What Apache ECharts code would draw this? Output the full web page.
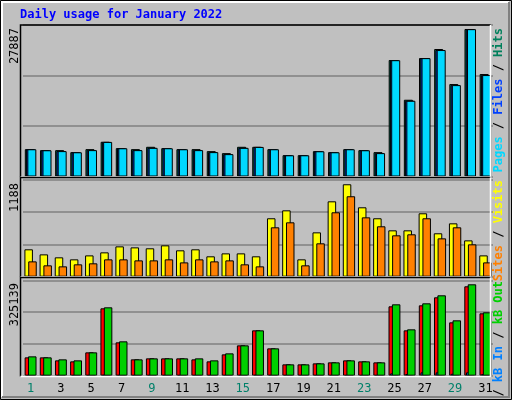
<!DOCTYPE html>
<html><head><meta charset="utf-8">
<script src="https://cdn.jsdelivr.net/npm/echarts@6/dist/echarts.min.js"></script>
<style>html,body{margin:0;padding:0;background:#c0c0c0}#c{width:512px;height:400px}</style>
</head><body><div id="c"></div>
<script>
const days = ['1','2','3','4','5','6','7','8','9','10','11','12','13','14','15','16','17','18','19','20','21','22','23','24','25','26','27','28','29','30','31'];
const weekend = [1,2,8,9,15,16,22,23,29,30];
const hits  = [5175,4985,4985,4606,5175,6562,5364,5175,5616,5364,5175,5175,4796,4417,5616,5616,5175,4038,4038,4796,4606,5175,4985,4606,22022,14513,22400,24104,17478,27887,19372];
const files = [5150,4960,4800,4580,4985,6540,5340,4985,5420,5340,5150,4985,4610,4230,5420,5590,5150,4010,4010,4770,4580,5150,4960,4420,21990,14320,22380,23910,17280,27860,19180];
const pages = [5150,4960,4800,4580,4985,6540,5340,4985,5420,5340,5150,4985,4610,4230,5420,5590,5150,4010,4010,4770,4580,5150,4960,4420,21990,14320,22380,23910,17280,27860,19180];
const visits = [352,287,249,223,274,313,390,377,365,403,339,352,262,300,300,262,751,853,223,570,969,1188,892,751,596,596,815,558,686,467,274];
const sites  = [197,146,133,159,172,223,223,210,210,223,184,223,197,210,159,133,635,699,146,429,828,1034,763,648,532,545,751,493,635,416,184];
const kbOut = [68823,65263,58143,54584,83062,243253,122220,58143,61703,61703,61703,61703,54584,79502,107981,161378,97301,40344,40344,43904,47464,54584,51024,47464,253932,164937,257492,285970,196975,325139,225453];
const kbF   = [65263,65263,54584,51024,83062,239693,118660,58143,61703,61703,61703,58143,51024,75942,107981,161378,97301,40344,40344,43904,47464,54584,51024,47464,246812,161378,250372,278850,189855,318019,221893];
const kbIn  = [1500,1500,1400,1300,1600,2500,1800,1400,1400,1400,1400,1400,1300,1500,1700,2000,1600,1200,1200,1200,1300,1400,1300,1300,8300,6000,11800,11800,7000,11800,5500];
const maxLabels = ['27887','1188','325139'];

const mono = 'DejaVu Sans Mono';
const chart = echarts.init(document.getElementById('c'));
const tops = [25,180,280.3], heights=[151.5,96.7,95.4];
const maxes = [28643,1243,339368];
const grids = tops.map((t,i)=>({left:23,width:470,top:t,height:heights[i]}));
const xAxes = grids.map((g,i)=>({type:'category',gridIndex:i,data:days,
  axisLine:{show:false},axisTick:{show:false},
  axisLabel:{show:i===2,margin:7,fontFamily:mono,fontSize:12,
    color:(v)=>weekend.includes(+v)?'#00806a':'#000'}}));
const yAxes = grids.map((g,i)=>({type:'value',gridIndex:i,min:0,max:maxes[i],interval:maxes[i]/3,
  axisLabel:{show:false},axisLine:{show:false},axisTick:{show:false},
  splitLine:{lineStyle:{color:'#808080',width:1.5}}}));
const bs = (name,data,i,color,w,gap)=>({type:'bar',name,data,xAxisIndex:i,yAxisIndex:i,barWidth:w,barGap:gap,
  itemStyle:{color,borderColor:'#000',borderWidth:1},animation:false,silent:true});
const series = [
  bs('Hits',hits,0,'#00805c',9,'-86%'),
  bs('Files',files,0,'#0040ff',9,'-86%'),
  bs('Pages',pages,0,'#00d8ff',9,'-86%'),
  bs('Visits',visits,1,'#ffff00',8.5,'-55%'),
  bs('Sites',sites,1,'#ff8000',8.5,'-55%'),
  bs('kB F',kbF,2,'#ff0000',8.5,'-80%'),
  bs('kB In',kbIn,2,'#0080ff',8.5,'-80%'),
  bs('kB Out',kbOut,2,'#00d000',8.5,'-80%')
];
const g = [
  {type:'rect',shape:{x:0.5,y:0.5,width:511,height:399},style:{fill:'none',stroke:'#000',lineWidth:1},z:-1},
  {type:'polyline',shape:{points:[[2,397],[2,2],[509,2]]},style:{stroke:'#fff',lineWidth:2,fill:'none'}},
  {type:'polyline',shape:{points:[[2,397],[509,397],[509,2]]},style:{stroke:'#808080',lineWidth:2,fill:'none'}},
  {type:'text',x:20,y:15,style:{text:'Daily usage for January 2022',fill:'#0000ff',font:'bold 12px '+mono,textVerticalAlign:'middle'}}
];
const frames=[[25,177],[177.5,277],[277.5,376.5]];
frames.forEach(f=>{
  g.push({type:'polyline',shape:{points:[[20.5,f[1]],[20.5,f[0]],[490.5,f[0]]]},style:{stroke:'#000',lineWidth:1.5,fill:'none'},z:10});
  g.push({type:'polyline',shape:{points:[[20.5,f[1]],[490.5,f[1]],[490.5,f[0]]]},style:{stroke:'#fff',lineWidth:1.5,fill:'none'},z:10});
});
const ly=[28,183,283];
maxLabels.forEach((t,i)=>g.push({type:'text',x:15,y:ly[i],rotation:Math.PI/2,
  style:{text:t,fill:'#000',font:'12px '+mono,textAlign:'right',textVerticalAlign:'middle'}}));
const rich=(parts,y)=>({type:'text',x:499,y:y,rotation:Math.PI/2,
  style:{text:parts.map((p,k)=>'{s'+k+'|'+p[0]+'}').join(''),textAlign:'right',textVerticalAlign:'middle',
    rich:Object.fromEntries(parts.map((p,k)=>['s'+k,{fill:p[1],font:'bold 12px '+mono}]))}});
g.push(rich([['Pages','#00d8ff'],[' / ','#000'],['Files','#0040ff'],[' / ','#000'],['Hits','#00805c']],28));
g.push(rich([['Sites','#ff8000'],[' / ','#000'],['Visits','#ffff00']],180));
g.push(rich([['kB F','#ff0000'],[' / ','#000'],['kB In','#0080ff'],[' / ','#000'],['kB Out','#00d000']],281));
chart.setOption({backgroundColor:'#c0c0c0',animation:false,grid:grids,xAxis:xAxes,yAxis:yAxes,series,graphic:g});
</script></body></html>
